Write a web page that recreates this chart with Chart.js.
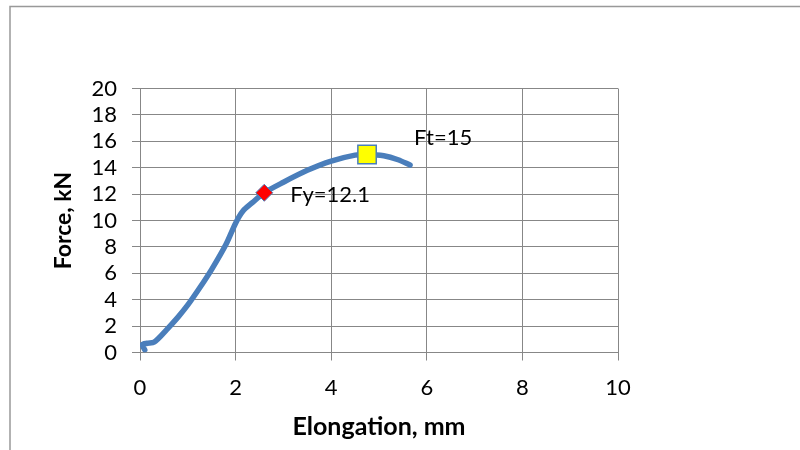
<!DOCTYPE html>
<html>
<head>
<meta charset="utf-8">
<script src="https://cdn.jsdelivr.net/npm/chart.js@4"></script>
<style>
  html, body { margin: 0; padding: 0; background: #fff; }
  #wrap { width: 800px; height: 450px; }
</style>
</head>
<body>
<div id="wrap"><canvas id="myChart" width="800" height="450"></canvas></div>
<script>
// Force / allongement (mm, kN)
const elongation = [0.1, 0.05, 0.15, 0.3, 0.55, 0.8, 1.0, 1.25, 1.5, 1.8, 2.0, 2.15, 2.35, 2.6, 3.0, 3.5, 4.0, 4.5, 4.75, 5.1, 5.4, 5.65];
const force      = [0.2, 0.6, 0.7, 0.8, 1.7, 2.7, 3.6, 4.9, 6.3, 8.2, 9.8, 10.7, 11.35, 12.1, 12.9, 13.8, 14.5, 14.95, 15.0, 14.9, 14.6, 14.2];

// Points remarquables
const fyPoint = { x: 2.6, y: 12.1 };
const ftPoint = { x: 4.75, y: 15 };

const xTicks = [0, 2, 4, 6, 8, 10];
const yTicks = [0, 2, 4, 6, 8, 10, 12, 14, 16, 18, 20];

const curve = elongation.map((e, i) => ({ x: e, y: force[i] }));

Chart.defaults.font.family = 'Lato';
Chart.defaults.color = '#000';

// cadre gris autour du graphique
const frame = {
  id: 'frame',
  beforeDraw(chart) {
    const c = chart.ctx;
    c.save();
    c.strokeStyle = '#999';
    c.lineWidth = 1.5;
    c.strokeRect(10, 6.5, 820, 470);
    c.restore();
  }
};

// étiquettes Fy / Ft à côté des marqueurs
const pointLabels = {
  id: 'pointLabels',
  afterDatasetsDraw(chart) {
    const c = chart.ctx;
    c.save();
    c.font = '22px Lato';
    c.fillStyle = '#000';
    c.textBaseline = 'middle';
    c.textAlign = 'left';
    const fy = chart.getDatasetMeta(0).data[0];
    const ft = chart.getDatasetMeta(1).data[0];
    c.fillText('Fy=' + fyPoint.y, fy.x + 26, fy.y + 2);
    c.fillText('Ft=' + ftPoint.y, ft.x + 47, ft.y - 17);
    c.restore();
  }
};

new Chart(document.getElementById('myChart'), {
  type: 'scatter',
  data: {
    datasets: [
      {
        data: [fyPoint],
        pointStyle: 'rectRot',
        pointRadius: 8.5,
        backgroundColor: '#ff0000',
        borderColor: '#4a7ebb',
        borderWidth: 1
      },
      {
        data: [ftPoint],
        pointStyle: 'rect',
        pointRadius: 13,
        backgroundColor: '#ffff00',
        borderColor: '#4a7ebb',
        borderWidth: 1.5
      },
      {
        data: curve,
        showLine: true,
        pointRadius: 0,
        borderColor: '#4a7ebb',
        borderWidth: 5.5,
        borderCapStyle: 'round',
        borderJoinStyle: 'round',
        tension: 0.3
      }
    ]
  },
  options: {
    responsive: false,
    animation: false,
    layout: { padding: { left: 40, top: 88.5, right: 182, bottom: 0 } },
    plugins: {
      legend: { display: false },
      tooltip: { enabled: false }
    },
    scales: {
      x: {
        type: 'linear',
        min: 0,
        max: 10,
        afterBuildTicks: s => { s.ticks = xTicks.map(v => ({ value: v })); },
        afterFit: s => { s.height = 97.5; },
        grid: { color: '#878787', lineWidth: 1, tickLength: 8 },
        border: { color: '#878787', width: 1 },
        ticks: { font: { size: 22 }, padding: 14, color: '#000', autoSkip: false, maxRotation: 0 },
        title: {
          display: true,
          text: 'Elongation, mm',
          font: { size: 25, weight: 'bold' },
          padding: { top: 0, bottom: 8 }
        }
      },
      y: {
        type: 'linear',
        min: 0,
        max: 20,
        afterBuildTicks: s => { s.ticks = yTicks.map(v => ({ value: v })); },
        afterFit: s => { s.width = 100; },
        grid: { color: '#878787', lineWidth: 1, tickLength: 8 },
        border: { color: '#878787', width: 1 },
        ticks: { font: { size: 22 }, padding: 15, color: '#000', autoSkip: false },
        title: {
          display: true,
          text: 'Force, kN',
          font: { size: 23, weight: 'bold' },
          padding: { top: 10, bottom: 0 }
        }
      }
    }
  },
  plugins: [frame, pointLabels]
});
</script>
</body>
</html>
